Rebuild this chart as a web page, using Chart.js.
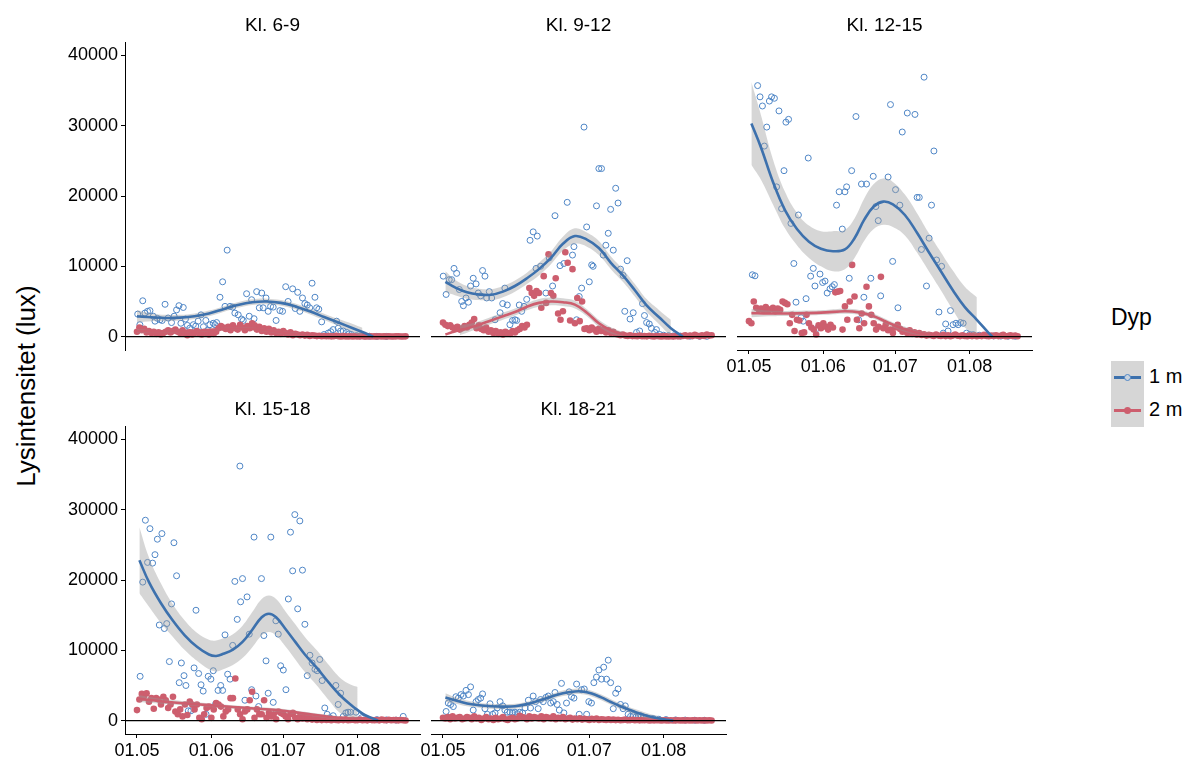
<!DOCTYPE html>
<html>
<head>
<meta charset="utf-8">
<script src="https://cdn.jsdelivr.net/npm/chart.js@4.4.1/dist/chart.umd.min.js"></script>
<style>
  body { margin: 0; background: #fff; font-family: "Liberation Sans", Arial, sans-serif; }
  #wrap { position: relative; width: 1190px; height: 760px; overflow: hidden; }
  canvas { position: absolute; }
  #ytitle { position: absolute; left: 26px; top: 386px; transform: translate(-50%, -50%) rotate(-90deg);
            font-size: 26px; white-space: nowrap; color: #000; }
  #legtitle { position: absolute; left: 1111px; top: 304px; font-size: 23px; color: #000; }
  .key { position: absolute; left: 1111px; width: 33px; height: 33px; background: #d6d6d6; }
  .key .ln { position: absolute; left: 3px; width: 27px; top: 15px; height: 3px; }
  .key .dot { position: absolute; left: 13px; top: 13px; width: 7px; height: 7px; border-radius: 50%; box-sizing: border-box; }
  .klab { position: absolute; left: 1149px; font-size: 20px; color: #000; }
</style>
</head>
<body>
<div id="wrap">
  <div id="ytitle">Lysintensitet (lux)</div>
  <div id="legtitle">Dyp</div>
  <div class="key" style="top:361px"><div class="ln" style="background:#3D71AD"></div><div class="dot" style="border:1px solid #4F86C6;background:#c9d3df"></div></div>
  <div class="key" style="top:394px"><div class="ln" style="background:#CD5E6E"></div><div class="dot" style="background:#CD5E6E"></div></div>
  <div class="klab" style="top:365px">1 m</div>
  <div class="klab" style="top:398px">2 m</div>
</div>
<script>
// x = days since 01.05
var xTickDays = [0, 31, 61, 92]
var xTickLabels = ['01.05', '01.06', '01.07', '01.08']
var yTicks = [0, 10000, 20000, 30000, 40000]
var titles = ['Kl. 6-9', 'Kl. 9-12', 'Kl. 12-15', 'Kl. 15-18', 'Kl. 18-21']

// 1 m, open circles: [day, lux]
var b1 = [[0.3,3200],[1.2,1700],[2.4,5100],[3.3,3350],[4.4,3600],[5.4,3700],[6.8,2900],[7.5,2200],[8.5,2600],[9.6,2400],[10.5,2300],[11.7,4600],[13,2650],[14.4,2000],[15.5,2900],[16.5,3800],[17.5,4400],[18.3,1900],[19.3,4150],[20.2,2500],[21,1600],[22,1200],[23.5,1700],[24.5,1500],[25.5,2200],[26.7,3100],[27.7,1400],[28.7,2300],[29.5,900],[30.4,1700],[31.8,1900],[32.5,1700],[33.2,2000],[34.6,5600],[35.7,7800],[36.7,4300],[37.6,12300],[38.8,4300],[39.9,4200],[40.8,3350],[42.2,3100],[43.6,2500],[44.3,2300],[45.7,6100],[46.8,2900],[47.8,5250],[48.8,2550],[49.9,6400],[51,4100],[52,6200],[52.6,4100],[53.8,5500],[54.7,3600],[55.7,4300],[56.8,4200],[58,2300],[59.6,3700],[60.7,3600],[62,7100],[63,5000],[64.9,6800],[66,4000],[67,6300],[67.9,3600],[69,5500],[70,4700],[71,4500],[72,4100],[73,7600],[74.2,5600],[74.9,4100],[75.8,3900],[77,2100],[78,300],[79.7,500],[80.8,700],[81.8,1000],[83.2,2200],[83.9,1200],[84.9,800],[86,800],[87.4,600],[88.5,400],[89.4,300],[91.5,150],[93,100],[95,80],[97,60],[100,40],[104,30]]
var b2 = [[0.1,8600],[1.3,6000],[2.6,8100],[3.6,8100],[4.6,9700],[5.7,9000],[6.8,6700],[7.8,5000],[8.5,4400],[9.6,5500],[10.6,4900],[11.5,7200],[12.6,8300],[13.8,7500],[14.7,6200],[15.7,5800],[16.5,9400],[17.5,8600],[18.2,5500],[19.3,6400],[20.3,5500],[21.7,2400],[23.8,3400],[24.9,4700],[25.8,6900],[26.8,4500],[27.9,1700],[29,2300],[30,2400],[30.7,2300],[31.8,4500],[32.8,3600],[33.8,4300],[34.9,5300],[36.3,13700],[37.6,14900],[38.8,9700],[39.3,14300],[40.7,10000],[42.9,6200],[44.3,11200],[45.7,7200],[46.7,17200],[48.8,10100],[50.4,10400],[51.8,19100],[54,11600],[54.6,12800],[55.7,2400],[56.8,5700],[57.8,6900],[58.8,29800],[59.9,15600],[61,7800],[62,10200],[62.6,10000],[64,18600],[65,23900],[66.1,23900],[66.8,11600],[67.9,13000],[68.9,14700],[69.9,18100],[71,12300],[72,21100],[73,19000],[74,9600],[75.1,8700],[75.8,3600],[76.8,10800],[78,2500],[79.3,3400],[80.7,600],[82,800],[83.2,4700],[84,3000],[84.9,2000],[86,1800],[86.9,1200],[88.3,600],[89,1000],[90.4,300],[92,200],[94,150],[96,100],[99,80],[103,60],[107,50],[110,40]]
var b3 = [[1.4,8800],[2.5,8650],[3.6,35700],[4.6,34100],[5.6,32800],[6.4,27100],[7.4,29800],[8.5,33500],[9.4,34100],[10.6,33900],[11.5,21300],[12.5,32100],[13.6,18200],[14.6,23600],[15.4,30500],[16.5,30900],[17.5,16100],[18.7,10400],[19.6,4900],[20.6,17300],[21.7,2700],[22.6,2200],[23.8,5400],[24.7,25400],[25.7,8600],[26.8,9700],[27.5,7200],[28.6,1200],[29.6,8900],[30.7,7700],[31.7,7900],[32.6,6200],[33.8,6800],[34.7,7100],[35.6,7400],[36.5,18700],[37.6,20600],[38.9,15300],[40,20600],[40.7,21300],[41.8,8300],[42.8,23600],[44.6,31300],[45.7,2400],[46.9,21700],[47.9,5600],[49,21700],[50.8,8300],[51.8,22800],[52.9,18500],[53.9,16500],[54.9,5800],[58,22700],[59,33000],[59.9,10700],[61.1,20900],[62.1,4100],[62.9,18700],[63.9,29100],[66,31800],[69.2,31600],[70.1,19800],[71,19800],[71.9,12400],[73,36900],[74,7200],[75.1,14000],[76.1,18700],[77.1,26400],[78.2,10900],[79.2,3500],[80.3,10000],[81,500],[82,1800],[83,800],[84,3700],[85.1,1700],[86.3,1900],[87.2,1700],[88.2,2000],[89.3,1900],[90.7,500],[92,300],[93.5,280],[96,200],[99,150],[102,100],[105,80],[108,60],[111,50]]
var b4 = [[1.3,6300],[2.4,19700],[3.5,28500],[4.4,22500],[5.4,27300],[6.5,22400],[7.5,23600],[8.5,25800],[9.3,13600],[10.4,26600],[11.4,13100],[12.4,13800],[13.5,8400],[14.4,16600],[15.4,25300],[16.5,20600],[17.6,5400],[18.5,8200],[19.6,6400],[20.4,5000],[21.4,1400],[22.5,1400],[23.8,7500],[24.6,15700],[25.7,6700],[26.7,5100],[27.6,4200],[28.8,900],[29.7,6300],[30.8,5900],[31.8,7100],[32.8,2400],[33.8,4300],[34.9,5000],[35.7,4300],[36.7,12200],[37.8,6600],[38.8,5900],[39.9,10700],[40.8,19800],[41.8,14400],[42.9,36200],[43.2,16900],[44,20200],[45,2900],[45.9,17600],[46.8,12300],[47.8,4400],[48.8,26100],[49.6,3500],[50.7,2000],[51.9,20200],[52.9,12100],[53.8,8500],[54.7,3900],[55.8,26100],[56.8,2600],[57.9,14200],[58.9,12300],[59.9,7800],[61,7200],[62.1,4400],[63.1,17300],[64,26800],[64.9,21300],[65.8,29300],[67,15900],[67.9,28400],[69,21400],[70,13700],[71,6400],[72.1,9300],[73,8200],[74.2,7300],[75.1,7100],[76.2,8700],[77.2,5700],[78.3,1800],[79.3,900],[80.4,400],[81.8,700],[82.9,5000],[83.9,2300],[84.9,3900],[86,600],[87.1,1100],[88,1200],[89,1200],[91.3,1200],[93.6,400],[96,200],[100,150],[104,100],[108,80],[111,600]]
var b5 = [[1.3,1300],[2.2,2500],[3.2,2300],[4.3,2000],[5.4,3400],[6.4,3200],[7.5,3700],[8.5,3500],[9.6,4300],[10.6,3700],[11.5,4800],[12.6,1500],[13.8,2700],[14.7,3000],[15.7,3200],[16.5,3800],[17.5,1700],[18.5,900],[19.6,2400],[20.7,900],[21.7,1100],[22.6,1800],[23.8,2700],[24.9,2100],[25.8,1500],[26.8,1200],[27.9,1200],[29,1100],[30,1200],[31,1000],[32,1200],[33.2,1100],[34.2,1800],[35.6,2900],[36.5,1800],[37.6,3500],[38.6,2700],[39.7,1700],[40.7,3000],[41.8,2700],[42.9,3300],[43.9,3500],[44.9,2500],[46,2700],[46.7,4000],[47.6,2300],[48.5,1500],[49.4,5300],[50.4,1100],[51.5,2500],[52.6,4100],[53.6,3400],[54.6,3200],[55.7,5200],[56.8,900],[57.8,4400],[58.9,4500],[59.9,900],[60.8,2700],[61.9,2500],[62.9,5400],[64,6200],[65,7200],[66.1,5900],[67,7600],[68.2,5900],[68.9,8600],[69.9,5400],[71,1700],[72,3900],[73,4500],[74,2300],[75.1,1700],[76,2100],[77.2,900],[78.2,600],[79.3,700],[80.4,500],[81.4,600],[82.4,700],[83.5,500],[84.9,400],[87.6,300],[90,200],[93,150],[97,100],[101,80],[105,60],[109,50]]

// 2 m, filled: one value per day, starting at day 0
var r1 = [700,1300,900,1100,600,800,500,700,400,600,
  300,500,700,900,600,800,1000,700,500,900,
  400,200,600,300,500,800,400,300,700,500,
  300,600,400,700,1200,1500,1300,1100,1400,900,
  1600,1200,1000,1700,1300,900,1500,1200,1900,1600,
  1000,1400,800,1200,700,1100,600,900,500,700,
  400,800,500,300,600,200,400,300,200,300,
  150,250,100,200,150,80,120,60,100,50,
  80,40,60,120,50,30,70,40,20,60,
  30,50,20,40,60,30,20,50,30,40,
  20,60,30,40,20,50,30,20,40,60,30,20,40]
var r2 = [2000,1700,1500,1600,1300,1100,1400,1000,1200,1500,
  1300,1700,2000,2500,1200,1600,1100,900,1300,700,
  900,500,800,400,600,300,700,500,400,800,
  600,900,1100,1500,1300,1700,6900,6200,5800,6500,
  6200,4100,8600,4800,11700,6200,5800,8300,3300,2400,
  3600,12000,10500,2300,9600,1900,5500,2200,5000,1100,
  1200,900,1300,1000,700,1100,800,1000,600,900,
  500,700,400,300,200,300,150,100,200,80,
  100,60,150,50,80,40,120,60,30,90,
  50,30,70,40,20,60,30,80,40,50,
  100,200,60,150,80,250,120,60,180,100,300,150,200]
var r3 = [2200,1900,5000,4100,3900,4000,3800,4200,3700,3900,
  4100,3600,4000,3800,5000,4800,4600,1900,3100,800,
  2400,2300,500,600,3100,1900,1300,1000,300,1600,
  1200,1900,1400,1000,1700,1300,6300,6400,6500,1000,
  4300,2400,5000,10200,5700,2400,1200,3300,1900,7100,
  4300,3100,1900,1000,1400,8500,1200,1700,900,1000,
  500,1300,1700,1100,700,800,500,900,400,600,
  300,500,250,350,150,250,200,100,300,150,
  100,250,80,200,60,150,300,120,80,200,
  100,60,150,80,200,50,120,80,250,100,
  60,150,100,200,80,120,250,60,100,180,80,150,60]
var r4 = [1500,3000,3800,3500,3900,2700,3200,1700,3200,3000,
  2300,3400,2900,1800,2300,3400,1300,900,1600,600,
  2300,800,2700,2300,1600,2300,400,200,900,1800,
  2000,400,1600,2500,2300,2000,600,1300,1600,3200,
  3200,6000,1600,900,200,1300,1600,2900,4100,400,
  1600,900,900,2900,400,1100,600,900,200,1300,
  1100,900,600,200,900,1100,400,200,600,300,
  500,200,400,150,300,100,250,80,200,100,
  150,60,200,100,50,150,80,200,60,100,
  120,50,80,150,60,100,40,120,80,60,
  100,40,150,80,60,120,50,100,70,40,90,60,30]
var r5 = [400,300,500,200,600,300,400,500,200,300,
  500,400,200,600,300,400,100,300,500,200,
  300,100,400,200,300,500,200,100,300,400,
  200,300,700,500,400,200,600,300,500,400,
  300,600,200,500,400,300,600,200,400,300,
  500,200,300,400,150,300,200,350,150,250,
  200,100,250,150,300,100,200,150,100,200,
  100,150,80,120,60,100,150,50,80,120,
  60,100,40,80,50,90,30,70,40,60,
  50,30,60,40,20,50,30,40,60,30,
  40,20,50,30,40,60,20,50,30,40,20,50,30]

// loess fits: [day, fit, lower, upper]; null band = ribbon dropped below 0
var f1b = [[0,2900,2000,3800],[6,2750,2200,3300],[12,2650,2200,3100],[18,2700,2300,3100],[24,2900,2500,3300],[30,3300,2900,3700],[36,3900,3500,4300],[42,4500,4100,4900],[48,4900,4500,5300],[54,5000,4600,5400],[60,4800,4400,5200],[66,4300,3900,4700],[72,3600,3200,4000],[78,2800,2350,3250],[84,2000,1500,2500],[90,1200,600,1800],[94,650,50,1250],[98.5,0,null,null]]
var f1r = [[0,800,500,1100],[8,750,550,950],[16,800,600,1000],[24,850,650,1050],[32,1000,800,1200],[40,1150,950,1350],[48,1100,900,1300],[56,800,600,1000],[64,450,250,650],[72,200,20,380],[80,100,10,190],[88,60,5,115],[96,40,5,75],[104,35,5,65],[112,30,5,55]]
var f2b = [[1,7800,6300,9300],[5,7000,5900,8100],[10,6300,5400,7200],[15,6000,5200,6800],[20,5950,5150,6750],[25,6400,5600,7200],[30,7200,6400,8000],[35,8300,7500,9100],[40,9600,8700,10500],[45,11200,10300,12100],[50,13200,12200,14200],[55,14300,13200,15400],[60,13800,12800,14800],[65,12600,11600,13600],[70,10500,9600,11400],[75,8700,7800,9600],[80,6600,5700,7500],[85,4400,3500,5300],[90,2800,1800,3800],[95,1200,50,2400],[100,0,null,null]]
var f2r = [[1,300,null,null],[4,650,null,null],[7,950,200,1700],[10,1150,550,1750],[15,1700,1200,2200],[20,2300,1800,2800],[25,2900,2400,3400],[30,3500,3000,4000],[35,4250,3750,4750],[40,4800,4250,5350],[45,5000,4450,5550],[50,4900,4350,5450],[55,4550,4000,5100],[60,3400,2900,3900],[65,1900,1400,2400],[70,900,450,1350],[75,350,20,700],[80,150,null,null],[90,80,null,null],[100,60,null,null],[112,60,null,null]]
var f3b = [[1,30300,24400,36200],[5,26900,22300,31500],[10,22000,18800,25200],[15,18000,15400,20600],[20,15300,13000,17600],[25,13500,11200,15800],[30,12500,10000,15000],[35,12150,9300,15000],[40,12400,9600,15200],[44,14000,11200,16800],[48,16600,13600,19600],[52,18500,15300,21700],[56,19200,15900,22500],[60,18800,15600,22000],[65,17300,14400,20200],[70,14800,12000,17600],[75,12000,9300,14700],[80,9300,6600,12000],[85,6600,3800,9400],[90,4200,1300,7100],[95,2400,200,5600],[100,500,null,null],[101.5,0,null,null]]
var f3r = [[1,3350,2750,3950],[8,3300,2900,3700],[16,3300,2950,3650],[24,3350,3000,3700],[32,3450,3100,3800],[40,3600,3250,3950],[46,3450,3100,3800],[52,2900,2550,3250],[57,2150,1800,2500],[62,1400,1050,1750],[66,950,600,1300],[71,500,200,800],[76,300,50,550],[82,200,null,null],[90,170,null,null],[100,150,null,null],[112,150,null,null]]
var f4b = [[1,22800,18100,27500],[5,19700,16200,23200],[10,16700,13900,19500],[15,14200,11900,16500],[20,12100,10000,14200],[25,10500,8500,12500],[30,9400,7300,11500],[33,9200,7000,11400],[36,9500,7300,11700],[40,10100,7900,12300],[44,11200,8900,13500],[48,12900,10400,15400],[52,14700,12100,17300],[55,15200,12600,17800],[58,14700,12100,17300],[62,13000,10500,15500],[66,11200,8700,13700],[70,9400,6900,11900],[75,7500,5000,10000],[80,5400,2900,7900],[85,3500,1000,6000],[90,2000,300,5000],[92,1500,50,4800],[95,800,null,null],[100.5,0,null,null]]
var f4r = [[1,3100,2600,3600],[10,2750,2400,3100],[20,2450,2150,2750],[30,2200,1950,2450],[40,1950,1700,2200],[50,1700,1450,1950],[60,1450,1200,1700],[70,1000,750,1250],[80,550,300,800],[90,250,20,480],[100,120,null,null],[112,80,null,null]]
var f5b = [[1,3300,2700,3900],[5,2900,2450,3350],[10,2450,2050,2850],[15,2200,1850,2550],[20,2050,1700,2400],[25,2000,1650,2350],[30,2050,1700,2400],[35,2350,2000,2700],[40,2850,2500,3200],[45,3400,3050,3750],[50,3900,3500,4300],[55,4150,3750,4550],[58,4150,3750,4550],[62,3850,3450,4250],[66,3300,2900,3700],[70,2650,2250,3050],[75,1900,1500,2300],[80,1250,850,1650],[85,700,300,1100],[90,300,20,650],[95,50,null,null],[96,0,null,null]]
var f5r = [[1,350,200,500],[10,330,220,440],[20,320,220,420],[30,360,260,460],[40,400,300,500],[50,350,250,450],[60,250,150,350],[70,150,60,240],[80,90,20,160],[90,60,null,null],[100,40,null,null],[112,40,null,null]]

var blue = '#3D71AD', blueDot = '#4F86C6', red = '#CD5E6E', band = 'rgba(153,153,153,0.4)'
Chart.defaults.font.family = '"Liberation Sans", Arial, sans-serif'

// panel boxes (plot area) in page pixels
var panels = [
  {left: 125, top: 42, showY: true, showX: false, b: b1, r: r1, fb: f1b, fr: f1r},
  {left: 431, top: 42, showY: false, showX: false, b: b2, r: r2, fb: f2b, fr: f2r},
  {left: 737, top: 42, showY: false, showX: true, b: b3, r: r3, fb: f3b, fr: f3r},
  {left: 125, top: 426, showY: true, showX: true, b: b4, r: r4, fb: f4b, fr: f4r},
  {left: 431, top: 426, showY: false, showX: true, b: b5, r: r5, fb: f5b, fr: f5r}
]
var PW = 295, PH = 308, YW = 70, XH = 35, TH = 42, RM = 10

var zeroLine = {
  id: 'zeroLine',
  afterDatasetsDraw: function(chart) {
    var ctx = chart.ctx, a = chart.chartArea, py = chart.scales.y.getPixelForValue(0)
    ctx.save()
    ctx.strokeStyle = '#000'
    ctx.lineWidth = 1.2
    ctx.beginPath()
    ctx.moveTo(a.left, py)
    ctx.lineTo(a.right, py)
    ctx.stroke()
    ctx.restore()
  }
}

function fitLine(f, col) {
  return {data: f.map(function(p){ return {x: p[0], y: p[1]} }), borderColor: col, borderWidth: 2.6,
    pointRadius: 0, tension: 0.4, fill: false, order: 0}
}
function bandLine(f, k, fillIt) {
  var pts = f.filter(function(p){ return p[2] !== null }).map(function(p){ return {x: p[0], y: p[k]} })
  return {data: pts, borderWidth: 0, borderColor: 'rgba(0,0,0,0)', pointRadius: 0, tension: 0.4,
    fill: fillIt ? '-1' : false, backgroundColor: band, order: 1}
}
function noPad(s) {
  s.paddingTop = 0; s.paddingBottom = 0; s.paddingLeft = 0; s.paddingRight = 0
}

var wrap = document.getElementById('wrap')
panels.forEach(function(p, i) {
  var c = document.createElement('canvas')
  var w = YW + PW + RM, h = TH + PH + XH
  c.width = w; c.height = h
  c.style.width = w + 'px'; c.style.height = h + 'px'
  c.style.left = (p.left - YW) + 'px'
  c.style.top = (p.top - TH) + 'px'
  wrap.appendChild(c)

  var axisCommon = {
    border: {display: true, color: '#000', width: 1},
    grid: {display: true, drawOnChartArea: false, drawTicks: true, tickLength: 4, color: '#000'},
  }
  new Chart(c, {
    type: 'line',
    data: {
      datasets: [
        fitLine(p.fb, blue),
        fitLine(p.fr, red),
        bandLine(p.fb, 2, false),
        bandLine(p.fb, 3, true),
        bandLine(p.fr, 2, false),
        bandLine(p.fr, 3, true),
        {data: p.r.map(function(v, d){ return {x: d, y: v} }), showLine: false, pointRadius: 3.3,
          pointBackgroundColor: red, pointBorderWidth: 0, order: 2},
        {data: p.b.map(function(q){ return {x: q[0], y: q[1]} }), showLine: false, pointRadius: 3,
          pointBackgroundColor: 'rgba(0,0,0,0)', pointBorderColor: blueDot, pointBorderWidth: 1, order: 2}
      ]
    },
    options: {
      responsive: false,
      animation: false,
      devicePixelRatio: 1,
      layout: {autoPadding: false,
        padding: {left: p.showY ? 0 : YW, right: RM, top: 0, bottom: p.showX ? 0 : XH}},
      plugins: {
        legend: {display: false},
        tooltip: {enabled: false},
        title: {display: true, text: titles[i], color: '#000', fullSize: false,
          font: {size: 19, weight: 'normal'}, padding: {top: 14, bottom: 5.2}}
      },
      scales: {
        x: Object.assign({
          type: 'linear', min: -5, max: 118, display: p.showX,
          ticks: {color: '#000', font: {size: 18}, padding: 2, maxRotation: 0, autoSkip: false,
            callback: function(v){ var k = xTickDays.indexOf(v); return k < 0 ? '' : xTickLabels[k] }},
          afterBuildTicks: function(s){ s.ticks = xTickDays.map(function(v){ return {value: v} }) },
          afterFit: function(s){ s.height = p.showX ? XH : 0; noPad(s) }
        }, axisCommon),
        y: Object.assign({
          type: 'linear', min: -1900, max: 41900, display: p.showY,
          ticks: {color: '#000', font: {size: 18}, padding: 3, callback: function(v){ return String(v) }},
          afterBuildTicks: function(s){ s.ticks = yTicks.map(function(v){ return {value: v} }) },
          afterFit: function(s){ s.width = p.showY ? YW : 0; noPad(s) }
        }, axisCommon)
      }
    },
    plugins: [zeroLine]
  })
})
</script>
</body>
</html>
